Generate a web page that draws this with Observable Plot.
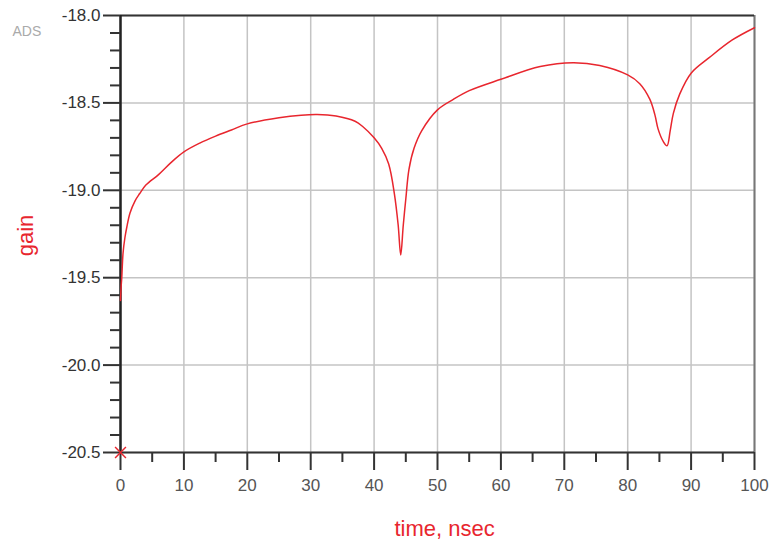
<!DOCTYPE html>
<html><head><meta charset="utf-8">
<script src="https://cdn.jsdelivr.net/npm/d3@7"></script>
<script src="https://cdn.jsdelivr.net/npm/@observablehq/plot@0.6"></script>
<style>html,body{margin:0;padding:0;background:#fff;}</style>
</head><body><div id="chart"></div>
<script>
const timeNs = [0,0.1,0.2,0.4,0.7,1.0,1.5,2.3,3,4,6,8,10,12.5,15,17.5,20,25,28.5,31,34,37,38.2,40,41.2,42.3,43.2,43.8,44.2,44.6,45,45.5,46.3,47.5,50,52.5,55,60,66.2,71.4,75.6,80,81.9,83.5,84.3,84.8,85.6,86.2,86.7,87.2,88.2,90,92.9,96.5,100];
const gain = [-19.63,-19.55,-19.5,-19.36,-19.27,-19.21,-19.13,-19.06,-19.02,-18.97,-18.91,-18.84,-18.78,-18.73,-18.69,-18.655,-18.62,-18.585,-18.57,-18.566,-18.575,-18.605,-18.635,-18.7,-18.76,-18.85,-19.02,-19.2,-19.37,-19.2,-19.05,-18.88,-18.76,-18.66,-18.54,-18.48,-18.43,-18.365,-18.292,-18.27,-18.286,-18.34,-18.39,-18.48,-18.57,-18.65,-18.72,-18.745,-18.66,-18.56,-18.45,-18.33,-18.24,-18.14,-18.07];
const xTicks = [0,10,20,30,40,50,60,70,80,90,100];
const xMinor = [5,15,25,35,45,55,65,75,85,95];
const yTicks = [-18.0,-18.5,-19.0,-19.5,-20.0,-20.5];
const yMinor = [-18.1,-18.2,-18.3,-18.4,-18.6,-18.7,-18.8,-18.9,-19.1,-19.2,-19.3,-19.4,-19.6,-19.7,-19.8,-19.9,-20.1,-20.2,-20.3,-20.4];
const marker = [{t:0, g:-20.5}];

const data = timeNs.map((t,i)=>({t, g:gain[i]}));
const red = "#e8262e";
const chart = Plot.plot({
  width: 769, height: 546,
  marginLeft: 120, marginRight: 15, marginTop: 15, marginBottom: 94,
  style: {fontFamily: "'Liberation Sans', Arial, sans-serif", background: "#fff", overflow: "visible"},
  x: {domain: [0,100]},
  y: {domain: [-20.5,-18.0]},
  marks: [
    Plot.gridX(xTicks, {stroke: "#c4c4c4", strokeOpacity: 1, strokeWidth: 1.5}),
    Plot.gridY(yTicks, {stroke: "#c4c4c4", strokeOpacity: 1, strokeWidth: 1.5}),
    Plot.ruleX([100], {stroke: "#777", strokeWidth: 2}),
    Plot.ruleY([-18.0], {stroke: "#333", strokeWidth: 2}),
    Plot.ruleY([-20.5], {stroke: "#333", strokeWidth: 2}),
    Plot.ruleX([0], {stroke: "#222", strokeWidth: 2.5}),
    Plot.axisY(yTicks, {tickSize: 17, tickPadding: 3, strokeWidth: 2, stroke: "#333", fill: "#333", fontSize: 17, tickFormat: d => d.toFixed(1), label: null}),
    Plot.axisY(yMinor, {tickSize: 10, strokeWidth: 2, stroke: "#333", tickFormat: () => "", label: null}),
    Plot.axisX(xTicks, {tickSize: 18, tickPadding: 8, strokeWidth: 2, stroke: "#333", fill: "#555", fontSize: 17, label: null}),
    Plot.axisX(xMinor, {tickSize: 10, strokeWidth: 2, stroke: "#333", tickFormat: () => "", label: null}),
    Plot.line(data, {x: "t", y: "g", stroke: red, strokeWidth: 1.5, curve: "catmull-rom"}),
    Plot.dot(marker, {x: "t", y: "g", symbol: "times", r: 5, stroke: red, strokeWidth: 1.5}),
    Plot.text(["gain"], {frameAnchor: "left", textAnchor: "middle", lineAnchor: "middle", dx: -95, dy: 1.5, rotate: -90, fill: red, fontSize: 22}),
    Plot.text(["time, nsec"], {frameAnchor: "bottom", textAnchor: "middle", lineAnchor: "middle", dx: 7, dy: 76, fill: red, fontSize: 22, letterSpacing: "0.5px"}),
    Plot.text(["ADS"], {frameAnchor: "top-left", textAnchor: "start", lineAnchor: "middle", dx: -108, dy: 16, fill: "#aaa", fontSize: 14})
  ]
});
document.getElementById("chart").appendChild(chart);
</script></body></html>
